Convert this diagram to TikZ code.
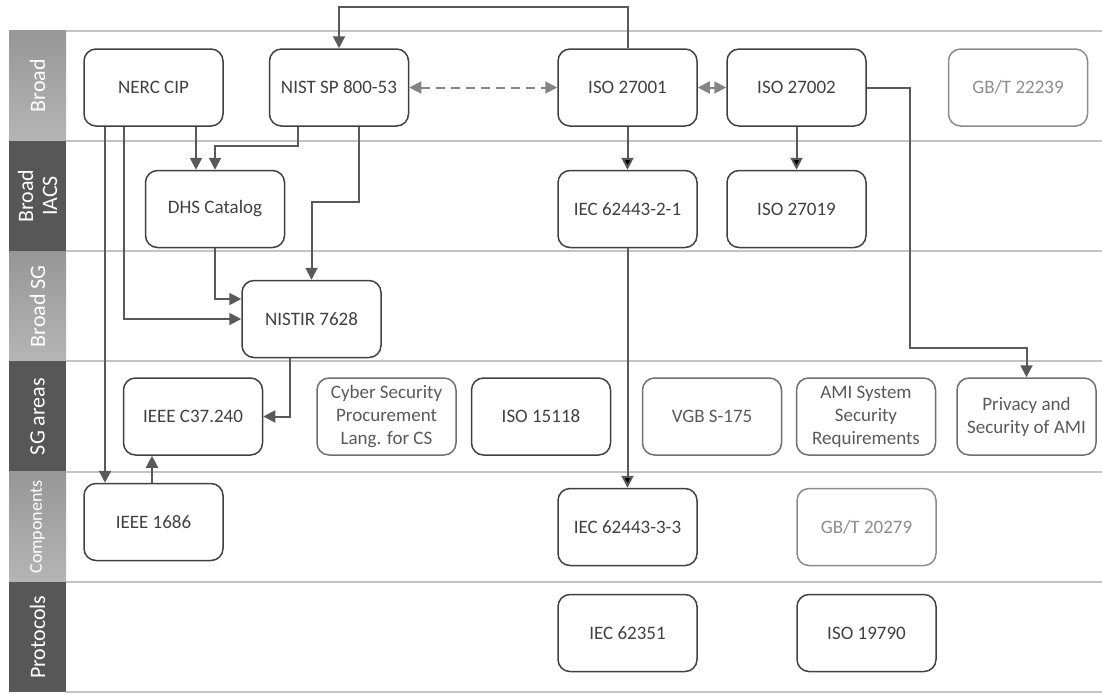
\documentclass[tikz,border=0pt]{standalone}
\usepackage{fontspec}
\setmainfont{Carlito}
\usepackage{tikz}
\usetikzlibrary{arrows.meta,positioning}

\definecolor{boxdark}{HTML}{404040}
\definecolor{boxmid}{HTML}{6F6F6F}
\definecolor{textmid}{HTML}{595959}
\definecolor{boxlight}{HTML}{8C8C8C}
\definecolor{linkgray}{HTML}{595959}
\definecolor{peergray}{HTML}{858585}
\definecolor{sepgray}{HTML}{C4C4C4}
\definecolor{lanedark}{HTML}{575757}

\begin{document}
\begin{tikzpicture}[x=1pt, y=1pt, on grid,
	std/.style={rectangle, rounded corners=6pt, draw=boxdark, text=boxdark, line width=0.75pt,
		minimum width=69.5pt, minimum height=38.5pt, inner sep=1pt, align=center,
		font=\fontsize{9.5}{11.5}\selectfont},
	soft/.style={std, draw=boxmid, text=textmid},
	faint/.style={std, draw=boxlight, text=boxlight},
	lane/.style={rectangle, rotate=90, minimum width=55.15pt, minimum height=28.5pt, inner sep=0pt,
		text=white, align=center, font=\fontsize{11}{12}\selectfont},
	lanelight/.style={lane, top color=black!41, bottom color=black!29},
	lanedark/.style={lane, fill=lanedark},
	link/.style={draw=linkgray, line width=1pt, -{Triangle[length=6pt,width=6pt]}},
	peer/.style={draw=peergray, line width=1pt, {Triangle[length=6pt,width=6pt]}-{Triangle[length=6pt,width=6pt]}}]
	\useasboundingbox (0,0) rectangle (551,-346.5);

	% swim lanes
	\node[lanelight] (l_broad) at (18.75,-42.825) {Broad};
	\node[lanedark]  (l_iacs)  at (18.75,-97.975) {Broad\\IACS};
	\node[lanelight] (l_sg)    at (18.75,-153.125) {Broad SG};
	\node[lanedark]  (l_areas) at (18.75,-208.275) {SG areas};
	\node[lanelight, font=\fontsize{9}{10}\selectfont] (l_comp) at (18.75,-263.425) {Components};
	\node[lanedark]  (l_proto) at (18.75,-318.575) {Protocols};
	\draw[sepgray, line width=1pt]
		(33,-15.25) -- (551,-15.25)   (33,-70.4) -- (551,-70.4)
		(33,-125.55) -- (551,-125.55) (33,-180.7) -- (551,-180.7)
		(33,-235.85) -- (551,-235.85) (33,-291) -- (551,-291)
		(33,-346.05) -- (551,-346.05);

	% standards
	\node[std] (nerc) at (76.75,-43.75) {NERC CIP};
	\node[std] (nist) [right=92.75pt of nerc] {NIST SP 800-53};
	\node[std] (iso_1) [right=144.25pt of nist] {ISO 27001};
	\node[std] (iso_2) [right=84.5pt of iso_1] {ISO 27002};
	\node[faint] (gbt_1) [right=110.75pt of iso_2] {GB/T 22239};
	\node[std] (iec_21) [below=60.75pt of iso_1] {IEC 62443-2-1};
	\node[std] (iso_19) [below=60.75pt of iso_2] {ISO 27019};
	\node[std] (dhs) [left=206.25pt of iec_21] {DHS Catalog};
	\node[std] (nistir) [below=115.75pt of nist, xshift=-13.75pt] {NISTIR 7628};
	\node[std] (c37) [below=164.5pt of nerc, xshift=19.75pt] {IEEE C37.240};
	\node[soft] (csp) [right=96.75pt of c37] {Cyber Security\\Procurement\\Lang. for CS};
	\node[std] (iso_15) [right=77.25pt of csp] {ISO 15118};
	\node[soft] (vgb) [right=85.5pt of iso_15] {VGB S-175};
	\node[soft] (ami) [right=77pt of vgb] {AMI System\\Security\\Requirements};
	\node[soft] (priv) [right=80.25pt of ami] {Privacy and\\Security of AMI};
	\node[std] (ieee_1686) [below=217.25pt of nerc] {IEEE 1686};
	\node[std] (iec_33) [below=159pt of iec_21] {IEC 62443-3-3};
	\node[faint] (gbt_2) [right=119.5pt of iec_33] {GB/T 20279};
	\node[std] (iec_351) [below=53pt of iec_33] {IEC 62351};
	\node[std] (iso_197) [below=53pt of gbt_2] {ISO 19790};

	% relations
	\path[link]
		(iso_1)  edge (iec_21)
		(iso_2)  edge (iso_19)
		(iec_21) edge (iec_33);
	\draw[peer, dash pattern=on 4.5pt off 3pt] (nist.east) -- (iso_1.west);
	\draw[peer] (iso_1.east) -- (iso_2.west);
	\draw[link] (iso_1.north) -- ++(0,20.5) -| (nist.north);
	\draw[link] (iso_2.east) -- ++(21.75,0) -- ++(0,-130.25) -| (priv.north);
	\draw[link] ([xshift=21.25pt]nerc.south) -- ([xshift=21.25pt]nerc.south |- dhs.north);
	\draw[link] ([xshift=-14.75pt]nerc.south) |- (nistir.west);
	\draw[link] ([xshift=-24.25pt]nerc.south) -- ([xshift=-24.25pt]nerc.south |- ieee_1686.north);
	\draw[link] ([xshift=-20.5pt]nist.south) -- ++(0,-9.5) -| (dhs.north);
	\draw[link] ([xshift=10pt]nist.south) -- ++(0,-37.5) -| (nistir.north);
	\draw[link] (dhs.south) |- ([yshift=10pt]nistir.west);
	\draw[link] ([xshift=-10.75pt]nistir.south) |- (c37.east);
	\draw[link] ([xshift=-0.75pt]ieee_1686.north) -- ([xshift=-0.75pt]ieee_1686.north |- c37.south);
\end{tikzpicture}
\end{document}
